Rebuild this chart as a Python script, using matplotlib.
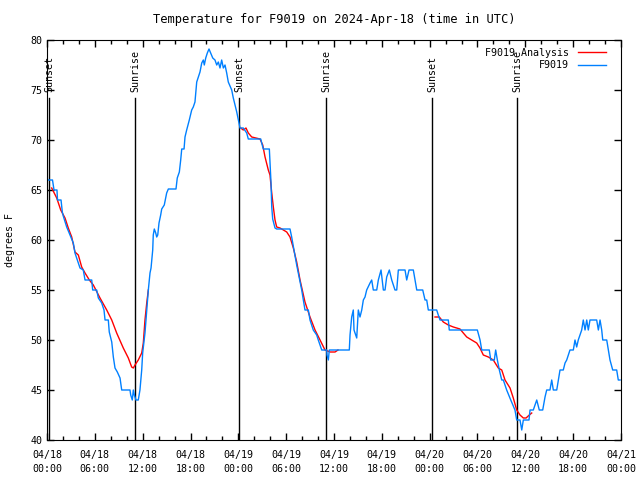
import numpy as np
import matplotlib
matplotlib.use('Agg')
import matplotlib.pyplot as plt
from matplotlib.ticker import MultipleLocator

plt.rcParams['font.family'] = 'DejaVu Sans Mono'
plt.rcParams['font.size'] = 7.2

# hours since 04/18 00:00 UTC
obs_t = [0.0, 0.06, 0.69, 0.88, 1.25, 1.32, 1.76, 1.92, 2.04, 2.47, 2.89, 3.30, 3.51, 4.14,
         4.55, 4.77, 5.61, 5.73, 6.23, 6.44, 6.86, 7.15, 7.28, 7.69, 7.81, 8.12, 8.32, 8.53,
         8.82, 9.16, 9.37, 10.41, 10.50, 10.70, 10.83, 10.95, 11.16, 11.45, 11.66, 11.88,
         12.00, 12.29, 12.51, 12.71, 12.92, 13.05, 13.26, 13.33, 13.46, 13.64, 13.76, 13.89,
         14.05, 14.26, 14.39, 14.71, 14.89, 15.01, 15.22, 16.18, 16.34, 16.60, 16.77, 16.90,
         17.19, 17.31, 17.52, 17.85, 18.15, 18.35, 18.56, 18.78, 19.19, 19.41, 19.61, 19.73,
         19.91, 20.11, 20.32, 20.53, 20.79, 21.07, 21.29, 21.49, 21.70, 21.91, 22.12, 22.33,
         22.54, 22.74, 23.17, 23.37, 23.58, 23.80, 24.00, 24.21, 24.62, 25.05, 25.25, 26.81,
         26.93, 27.13, 27.89, 27.97, 28.10, 28.19, 28.31, 28.60, 28.81, 30.48, 30.69, 30.82,
         30.98, 31.32, 31.74, 31.95, 32.36, 32.78, 32.99, 33.40, 33.83, 34.03, 34.46, 35.09,
         35.12, 35.29, 35.41, 37.92, 38.01, 38.22, 38.42, 38.51, 38.85, 39.05, 39.26, 39.48,
         39.68, 39.89, 40.10, 40.52, 40.73, 40.93, 41.36, 41.56, 41.90, 42.19, 42.40, 42.61,
         42.94, 43.24, 43.65, 43.87, 44.07, 44.91, 45.12, 45.41, 45.95, 46.16, 46.38, 47.13,
         47.42, 47.63, 47.83, 48.88, 49.08, 49.30, 50.34, 50.46, 53.98, 54.32, 54.53, 55.48,
         55.66, 56.11, 56.28, 56.49, 56.74, 57.04, 57.24, 57.66, 58.17, 58.70, 58.92, 59.33,
         59.55, 59.75, 60.46, 60.59, 61.00, 61.43, 61.75, 62.18, 62.47, 62.68, 63.09, 63.31,
         63.51, 63.94, 64.14, 64.35, 64.76, 64.98, 65.19, 65.60, 66.02, 66.23, 66.44, 66.64,
         67.07, 67.27, 67.49, 67.70, 67.90, 68.11, 68.95, 69.16, 69.37, 69.58, 69.71, 70.21,
         70.41, 70.62, 70.96, 71.46, 71.66, 71.88]
obs_temp = [67, 66, 66, 65, 65, 64, 64, 62.8, 62.4, 61.3, 60.5, 59.7, 58.7, 57.2,
            57, 56, 56, 55, 55, 54.2, 53.7, 53, 52, 52, 50.8, 49.8, 48.3, 47.2,
            46.8, 46.2, 45, 45, 44.5, 44, 45, 44.5, 44, 44, 45, 47,
            48.7, 50.7, 53, 55, 56.7, 57.2, 59, 60.5, 61.1, 60.7, 60.3, 60.5,
            61.7, 62.5, 63.1, 63.5, 64.2, 64.7, 65.1, 65.1, 66.2, 66.8, 68, 69.1,
            69.1, 70.3, 71, 72, 73, 73.3, 73.8, 75.8, 76.8, 77.7, 78, 77.5,
            78.2, 78.7, 79.1, 78.7, 78.2, 78, 77.5, 77.8, 77.2, 78, 77.2, 77.5,
            76.7, 75.8, 75, 74.2, 73.5, 72.8, 72, 71.2, 71.2, 70.7, 70.1, 70.1,
            69.7, 69.1, 69.1, 67.8, 65.7, 63.3, 62.1, 61.2, 61.1, 61.1, 60.3, 59.7,
            59, 57.5, 55.8, 55, 53, 53, 52, 51, 50.5, 50, 49, 49,
            48.5, 48, 49, 49, 50.5, 52.3, 53, 51, 50.2, 53, 52.3, 53,
            54, 54.3, 55, 55.7, 56, 55, 55, 56, 57, 55, 55, 56.3,
            57, 56, 55, 55, 57, 57, 56, 57, 57, 56, 55, 55,
            54, 54, 53, 53, 52.5, 52, 52, 51, 51, 50, 49, 49,
            48, 48, 49, 48, 47, 46, 46, 45, 44, 43, 42, 42,
            41, 42, 42, 43, 43, 44, 43, 43, 44.3, 45, 45, 46,
            45, 45, 46, 47, 47, 47.7, 48, 49, 49, 50, 49.3, 50,
            51, 52, 51, 52, 51, 52, 52, 51, 52, 51, 50, 50,
            49, 48, 47, 47, 46, 46]

# analysis, three segments (NaN breaks the line)
ana_t = [0.59, 1.22, 1.72, 2.26, 2.67, 3.10, 3.51, 3.93, 4.35, 4.77, 5.31, 5.81, 6.65,
         7.49, 8.12, 8.74, 9.57, 10.20, 10.62, 10.83, 11.04, 11.45, 11.88, 12.08, 12.29,
         12.51, 12.71,
         np.nan,
         24.30, 24.62, 24.96, 25.25, 25.68, 26.72, 27.06, 27.35, 27.76, 27.97, 28.19,
         28.39, 28.60, 28.81, 29.23, 30.07, 30.48, 30.90, 31.32, 31.74, 32.36, 32.99,
         33.62, 34.25, 34.87, 35.50, 36.13, 36.50,
         np.nan,
         48.67, 49.21, 49.71, 50.34, 50.97, 51.80, 52.22, 52.65, 53.27, 53.90, 54.31,
         54.73, 55.36, 55.98, 56.61, 57.04, 57.45, 58.08, 58.49, 58.92, 59.33, 59.75,
         60.09, 60.50, 60.80]
ana_temp = [65.2, 64.2, 63, 62.2, 61.2, 60.3, 58.8, 58.5, 57.3, 56.7, 56, 55.5, 54.2,
            53, 52, 50.7, 49.2, 48.2, 47.3, 47.2, 47.5, 48, 48.7, 49.7, 52,
            53.7, 55,
            np.nan,
            71.2, 71, 71.2, 70.7, 70.3, 70.1, 69.5, 68.3, 67, 66.5, 64.7,
            63.3, 62, 61.3, 61.2, 60.8, 60.3, 59.2, 57.8, 56, 53.8, 52.3,
            51, 50, 49, 48.8, 48.8, 49,
            np.nan,
            52.3, 52.3, 51.8, 51.5, 51.3, 51.1, 50.7, 50.3, 50, 49.7, 49.2,
            48.5, 48.3, 48, 47.2, 47, 46, 45.2, 44.2, 43, 42.5, 42.2,
            42.2, 42.5, 42.7]

sun_t = [0.25, 11.04, 24.09, 35.0, 48.3, 58.97]
sun_lbl = ['Sunset', 'Sunrise', 'Sunset', 'Sunrise', 'Sunset', 'Sunrise']

xtick_pos = [0, 6, 12, 18, 24, 30, 36, 42, 48, 54, 60, 66, 72]
xtick_lbl = ['04/18\n00:00', '04/18\n06:00', '04/18\n12:00', '04/18\n18:00',
             '04/19\n00:00', '04/19\n06:00', '04/19\n12:00', '04/19\n18:00',
             '04/20\n00:00', '04/20\n06:00', '04/20\n12:00', '04/20\n18:00',
             '04/21\n00:00']

fig = plt.figure(figsize=(6.4, 4.8), dpi=100)
ax = fig.add_axes([47/640, 40/480, 574/640, 400/480])

for t, lbl in zip(sun_t, sun_lbl):
    ax.plot([t, t], [40, 74.2], color='black', lw=1)
    ax.text(t, 74.8, lbl, rotation=90, ha='center', va='bottom')

l_ana, = ax.plot(ana_t, ana_temp, color='#ff0000', lw=1)
l_obs, = ax.plot(obs_t, obs_temp, color='#0080ff', lw=1)

ax.set_xlim(0, 72)
ax.set_ylim(40, 80)
ax.set_xticks(xtick_pos)
ax.set_xticklabels(xtick_lbl, linespacing=1.55)
ax.xaxis.set_minor_locator(MultipleLocator(2))
ax.set_yticks(range(40, 81, 5))
ax.tick_params(direction='in', top=True, right=True, length=5, width=1)
ax.tick_params(axis='x', pad=7)
ax.tick_params(which='minor', direction='in', top=True, length=3, width=1)
ax.set_ylabel('degrees F')
ax.yaxis.set_label_coords(-0.055, 0.5)
ax.set_title('Temperature for F9019 on 2024-Apr-18 (time in UTC)', pad=12)

ax.legend([l_ana, l_obs], ['F9019 Analysis', 'F9019'], loc='upper right',
          frameon=False, markerfirst=False, handlelength=2.8, borderaxespad=0,
          labelspacing=0.25, handletextpad=0.9, bbox_to_anchor=(1 - 11/574, 1 - 4/400))

fig.savefig('out.png')
